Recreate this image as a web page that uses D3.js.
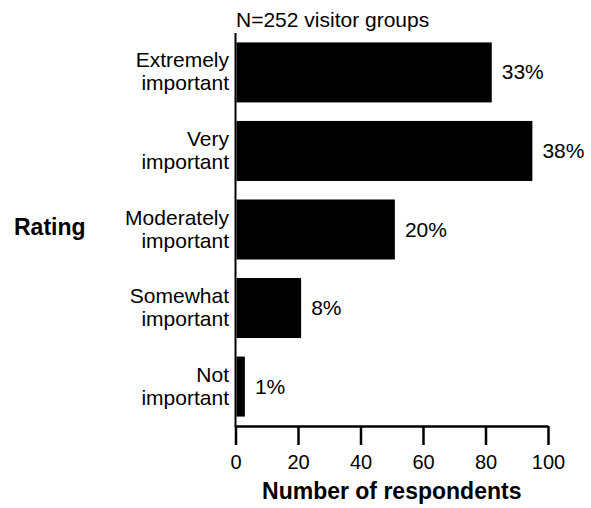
<!DOCTYPE html>
<html><head><meta charset="utf-8">
<script src="https://cdn.jsdelivr.net/npm/d3@7"></script>
<style>body{margin:0;background:#fff}svg{display:block;font-family:Arial,"Liberation Sans",sans-serif}</style>
</head><body>
<svg id="c" width="591" height="508"></svg>
<script>
const categories = [["Extremely","important"],["Very","important"],["Moderately","important"],["Somewhat","important"],["Not","important"]];
const counts = [82, 95, 51, 21, 3];
const percents = ["33%","38%","20%","8%","1%"];
const xTicks = [0,20,40,60,80,100];
const subtitle = "N=252 visitor groups";
const xTitle = "Number of respondents";
const yTitle = "Rating";

const svg = d3.select("#c");
const x = d3.scaleLinear().domain([0,100]).range([235.5,548]);
const y = d3.scaleBand().domain(d3.range(categories.length)).range([33,426]).paddingInner(0.236).paddingOuter(0.12);

// bars
svg.selectAll("rect.bar").data(counts).join("rect")
  .attr("x", x(0)+1).attr("y",(d,i)=>y(i))
  .attr("width", d=>x(d)-x(0)-1).attr("height", y.bandwidth())
  .attr("fill","#000");

// y axis line
svg.append("line").attr("x1",x(0)).attr("x2",x(0)).attr("y1",33).attr("y2",427)
  .attr("stroke","#000").attr("stroke-width",2);

// x axis
const xa = svg.append("g").attr("transform","translate(0,426)")
  .call(d3.axisBottom(x).tickValues(xTicks).tickSize(19).tickPadding(10).tickSizeOuter(0));
xa.select(".domain").attr("stroke-width",2.5);
xa.selectAll(".tick line").attr("stroke-width",2.5);
xa.selectAll(".tick text").attr("font-size",20).attr("fill","#000").attr("font-family","Arial, 'Liberation Sans', sans-serif");

// category labels
categories.forEach((lines,i)=>{
  const cy = y(i)+y.bandwidth()/2;
  const t = svg.append("text").attr("text-anchor","end").attr("font-size",21).attr("fill","#000");
  t.append("tspan").attr("x",229).attr("y",cy-5).text(lines[0]);
  t.append("tspan").attr("x",229).attr("y",cy+18).text(lines[1]);
});

// percent labels
svg.selectAll("text.pct").data(counts).join("text").attr("class","pct")
  .attr("x",d=>x(d)+10).attr("y",(d,i)=>y(i)+y.bandwidth()/2+7)
  .attr("font-size",21).attr("fill","#000").text((d,i)=>percents[i]);

svg.append("text").attr("x",236).attr("y",27).attr("font-size",21).text(subtitle);
svg.append("text").attr("x",(x(0)+x(100))/2).attr("y",499).attr("text-anchor","middle")
  .attr("font-size",23).attr("font-weight","bold").text(xTitle);
svg.append("text").attr("x",14).attr("y",235).attr("font-size",23).attr("font-weight","bold").text(yTitle);
</script>
</body></html>
